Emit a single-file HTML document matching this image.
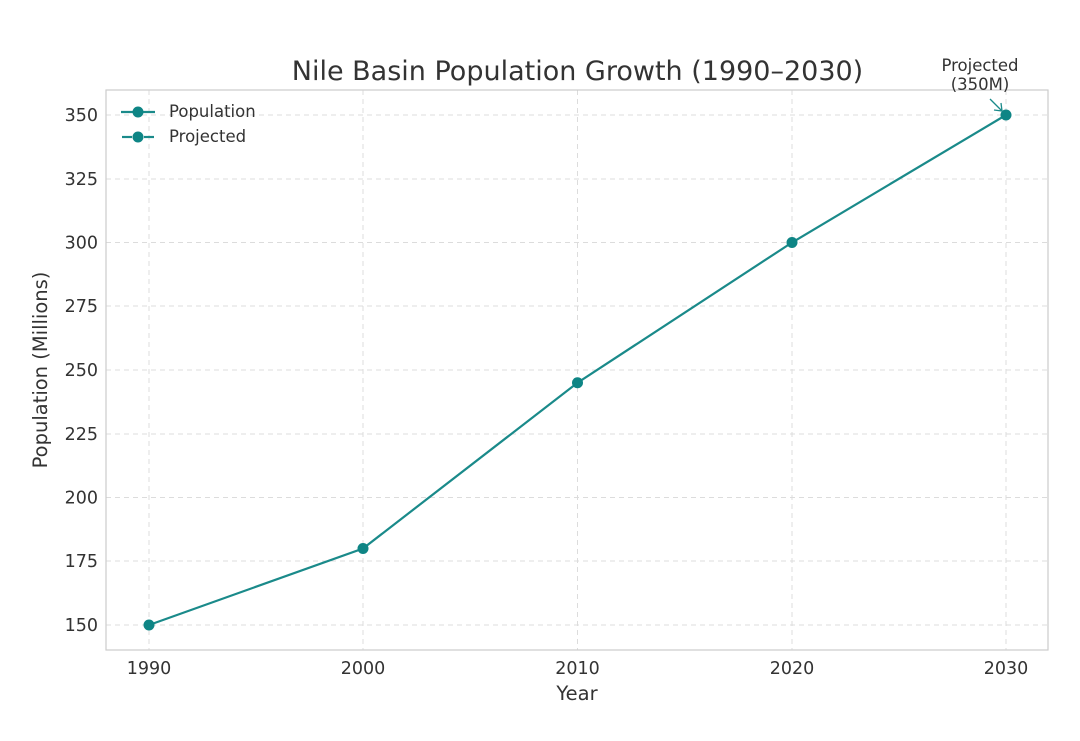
<!DOCTYPE html>
<html><head><meta charset="utf-8"><style>body{margin:0;background:#fff}</style></head>
<body>
<svg width="1080" height="736" xmlns="http://www.w3.org/2000/svg" font-family="DejaVu Sans, Liberation Sans, sans-serif">
<rect width="1080" height="736" fill="#fff"/>
<g stroke="#dcdcdc" stroke-dasharray="5,4" stroke-width="1">
<line x1="149" y1="90" x2="149" y2="650"/><line x1="363" y1="90" x2="363" y2="650"/><line x1="577.5" y1="90" x2="577.5" y2="650"/><line x1="792" y1="90" x2="792" y2="650"/><line x1="1006" y1="90" x2="1006" y2="650"/>
<line x1="106" y1="115" x2="1048" y2="115"/><line x1="106" y1="179" x2="1048" y2="179"/><line x1="106" y1="242.5" x2="1048" y2="242.5"/><line x1="106" y1="306" x2="1048" y2="306"/><line x1="106" y1="370" x2="1048" y2="370"/><line x1="106" y1="434" x2="1048" y2="434"/><line x1="106" y1="497.5" x2="1048" y2="497.5"/><line x1="106" y1="561" x2="1048" y2="561"/><line x1="106" y1="625" x2="1048" y2="625"/>
</g>
<rect x="106" y="90" width="942" height="560" fill="none" stroke="#cccccc" stroke-width="1.2"/>
<polyline points="149,625 363,548.5 577.5,382.75 792,242.5 1006,115" fill="none" stroke="#1a8a8a" stroke-width="2.2"/>
<g fill="#0e8585"><circle cx="149" cy="625" r="5.5"/><circle cx="363" cy="548.5" r="5.5"/><circle cx="577.5" cy="382.75" r="5.5"/><circle cx="792" cy="242.5" r="5.5"/><circle cx="1006" cy="115" r="5.5"/></g>
<line x1="990" y1="99" x2="1002" y2="111" stroke="#1a8a8a" stroke-width="1.3"/>
<polyline points="994,110 1002,111 1001,103" fill="none" stroke="#1a8a8a" stroke-width="1.3"/>
<text x="980" y="71" font-size="16.5" text-anchor="middle" fill="#333">Projected</text>
<text x="980" y="90" font-size="16.5" text-anchor="middle" fill="#333">(350M)</text>
<text x="577.5" y="80" font-size="27" text-anchor="middle" fill="#333">Nile Basin Population Growth (1990–2030)</text>
<g font-size="17.5" fill="#333" text-anchor="middle">
<text x="149" y="674">1990</text><text x="363" y="674">2000</text><text x="577.5" y="674">2010</text><text x="792" y="674">2020</text><text x="1006" y="674">2030</text>
<text x="577" y="700" font-size="19.5">Year</text>
</g>
<g font-size="17.5" fill="#333" text-anchor="end">
<text x="98" y="121">350</text><text x="98" y="185">325</text><text x="98" y="248.5">300</text><text x="98" y="312">275</text><text x="98" y="376">250</text><text x="98" y="440">225</text><text x="98" y="503.5">200</text><text x="98" y="567">175</text><text x="98" y="631">150</text>
</g>
<text transform="translate(47,370) rotate(-90)" font-size="19.5" fill="#333" text-anchor="middle">Population (Millions)</text>
<line x1="121" y1="112" x2="155" y2="112" stroke="#1a8a8a" stroke-width="2.2"/>
<circle cx="138" cy="112" r="5.5" fill="#0e8585"/>
<line x1="122" y1="137" x2="132" y2="137" stroke="#1a8a8a" stroke-width="2.2"/>
<line x1="144" y1="137" x2="154" y2="137" stroke="#1a8a8a" stroke-width="2.2"/>
<circle cx="138" cy="137" r="5.5" fill="#0e8585"/>
<text x="169" y="117" font-size="16.5" fill="#333">Population</text>
<text x="169" y="142" font-size="16.5" fill="#333">Projected</text>
</svg>
</body></html>
